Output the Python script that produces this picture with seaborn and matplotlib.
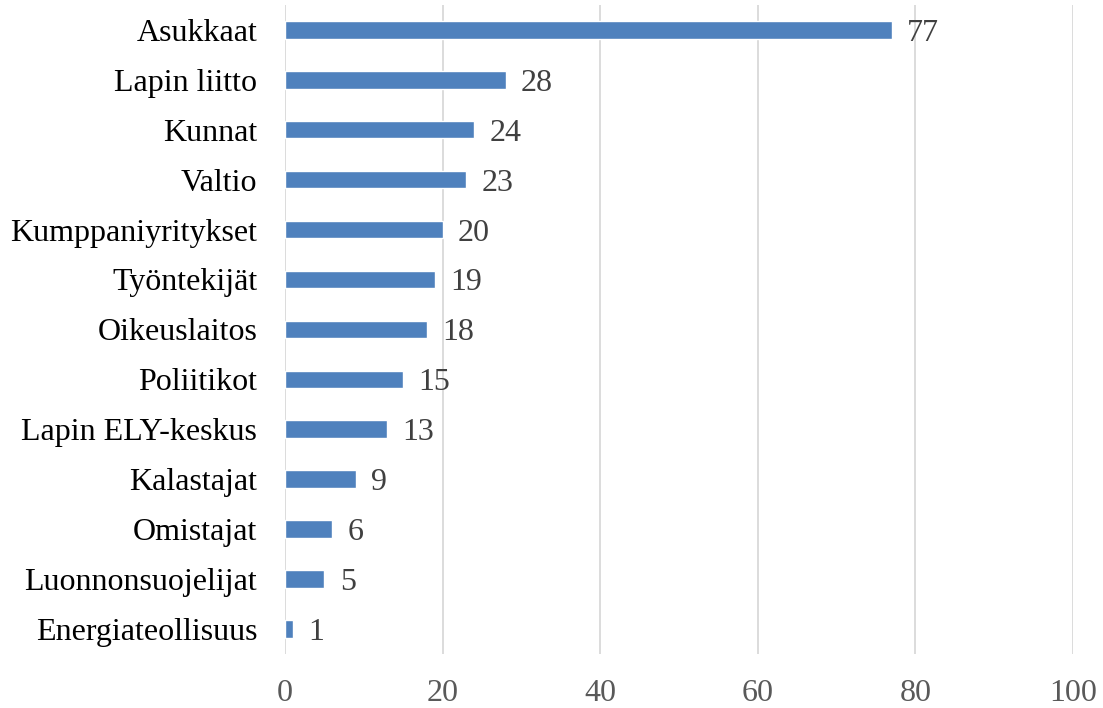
import matplotlib
matplotlib.use("Agg")
import matplotlib.pyplot as plt
import seaborn as sns
import pandas as pd

# data
categories = ["Asukkaat", "Lapin liitto", "Kunnat", "Valtio", "Kumppaniyritykset",
              "Työntekijät", "Oikeuslaitos", "Poliitikot", "Lapin ELY-keskus",
              "Kalastajat", "Omistajat", "Luonnonsuojelijat", "Energiateollisuus"]
values = [77, 28, 24, 23, 20, 19, 18, 15, 13, 9, 6, 5, 1]
xticks = [0, 20, 40, 60, 80, 100]

df = pd.DataFrame({"category": categories, "value": values})

sns.set_style("white")
plt.rcParams["font.family"] = ["Liberation Serif", "DejaVu Serif"]

fig = plt.figure(figsize=(11.03, 7.08), dpi=100)
ax = fig.add_axes([0.2584, 0.0765, 0.7144, 0.9165])

sns.barplot(data=df, x="value", y="category", color="#4F81BD", saturation=1,
            width=0.35, ax=ax, zorder=3)

ax.set_xlim(0, 100)
ax.set_xticks(xticks)
ax.grid(axis="x", color="#D9D9D9", linewidth=1.3, zorder=0)
ax.grid(axis="y", visible=False)
for s in ax.spines.values():
    s.set_visible(False)

ax.set_xlabel("")
ax.set_ylabel("")
ax.tick_params(axis="y", length=0, pad=20, labelsize=23, labelcolor="black")
ax.tick_params(axis="x", length=0, pad=18, labelsize=23, labelcolor="#595959")

for container in ax.containers:
    texts = ax.bar_label(container, labels=[str(v) for v in values], padding=11,
                         fontsize=23, color="#404040")
    for t in texts:
        t.set_va("center_baseline")

fig.savefig("out.png", dpi=100)
